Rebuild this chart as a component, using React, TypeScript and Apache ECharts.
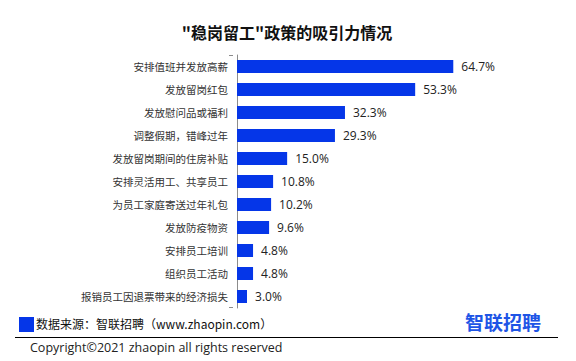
import React, { useEffect, useRef } from "react";
import * as echarts from "echarts";

const categories = [
  "安排值班并发放高薪",
  "发放留岗红包",
  "发放慰问品或福利",
  "调整假期，错峰过年",
  "发放留岗期间的住房补贴",
  "安排灵活用工、共享员工",
  "为员工家庭寄送过年礼包",
  "发放防疫物资",
  "安排员工培训",
  "组织员工活动",
  "报销员工因退票带来的经济损失",
];
const values = [64.7, 53.3, 32.3, 29.3, 15.0, 10.8, 10.2, 9.6, 4.8, 4.8, 3.0];

const titleText = '"稳岗留工"政策的吸引力情况';
const sourceText = "数据来源：智联招聘（www.zhaopin.com）";
const copyrightText = "Copyright©2021 zhaopin all rights reserved";
const logoText = "智联招聘";

const BLUE = "#0536e8";
const CJK = "'Noto Sans CJK SC', 'Microsoft YaHei', sans-serif";

export default function App() {
  const ref = useRef<HTMLDivElement>(null);
  useEffect(() => {
    document.body.style.margin = "0";
    if (!ref.current) return;
    const chart = echarts.init(ref.current, null, { renderer: "svg" });
    chart.setOption({
      animation: false,
      backgroundColor: "#fff",
      grid: { left: 237, top: 55, width: 234, height: 253 },
      xAxis: { type: "value", min: 0, max: 70, show: false },
      yAxis: {
        type: "category",
        data: categories,
        inverse: true,
        offset: 4,
        axisLine: { lineStyle: { color: "#8c8c8c", width: 1 } },
        axisTick: { show: false },
        axisLabel: { fontSize: 10.5, color: "#333", margin: 5, fontFamily: CJK },
      },
      series: [
        {
          type: "bar",
          data: values,
          barWidth: 13,
          itemStyle: { color: BLUE },
          label: {
            show: true,
            position: "right",
            distance: 8,
            fontSize: 12,
            color: "#222",
            fontFamily: "'Open Sans', sans-serif",
            formatter: (p: any) => Number(p.value).toFixed(1) + "%",
          },
        },
      ],
      graphic: [
        {
          type: "text",
          x: 287,
          y: 32,
          style: {
            text: titleText,
            font: `bold 16px ${CJK}`,
            fill: "#111",
            textAlign: "center",
            textVerticalAlign: "middle",
          },
        },
        { type: "line", shape: { x1: 229, y1: 55.5, x2: 233, y2: 55.5 }, style: { stroke: "#8c8c8c", lineWidth: 1 } },
        { type: "line", shape: { x1: 229, y1: 307.5, x2: 233, y2: 307.5 }, style: { stroke: "#8c8c8c", lineWidth: 1 } },
        { type: "rect", shape: { x: 19, y: 317, width: 15, height: 15 }, style: { fill: BLUE } },
        {
          type: "text",
          x: 36,
          y: 323,
          style: { text: sourceText, font: `12px ${CJK}`, fill: "#111", textVerticalAlign: "middle" },
        },
        { type: "line", shape: { x1: 15, y1: 337.5, x2: 558, y2: 337.5 }, style: { stroke: "#000", lineWidth: 1 } },
        {
          type: "text",
          x: 30,
          y: 347,
          style: { text: copyrightText, font: `12.5px 'Open Sans', sans-serif`, fill: "#222", textVerticalAlign: "middle" },
        },
        {
          type: "text",
          x: 465,
          y: 321,
          style: { text: logoText, font: `bold 19px ${CJK}`, fill: "#1e55e6", textVerticalAlign: "middle" },
        },
      ],
    });
    return () => chart.dispose();
  }, []);
  return <div ref={ref} style={{ width: 576, height: 361 }} />;
}
